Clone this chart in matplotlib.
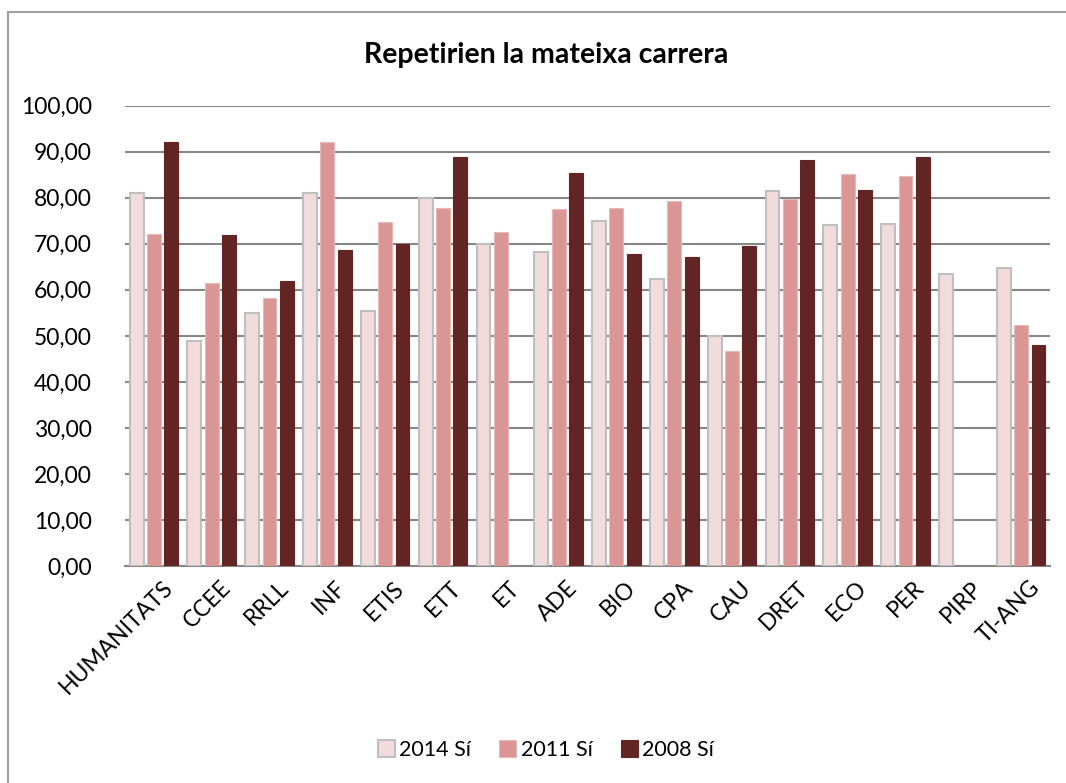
import matplotlib
matplotlib.use("Agg")
import matplotlib.pyplot as plt
import numpy as np
from matplotlib.lines import Line2D
from matplotlib.ticker import FuncFormatter
from matplotlib.transforms import ScaledTranslation

categories = ["HUMANITATS", "CCEE", "RRLL", "INF", "ETIS", "ETT", "ET", "ADE",
              "BIO", "CPA", "CAU", "DRET", "ECO", "PER", "PIRP", "TI-ANG"]
s2014 = [81.0, 48.9, 54.9, 81.0, 55.5, 80.0, 70.0, 68.2, 74.9, 62.3, 50.0, 81.4, 74.0, 74.4, 63.4, 64.7]
s2011 = [72.1, 61.5, 58.3, 92.2, 74.8, 77.7, 72.6, 77.5, 77.7, 79.2, 46.8, 79.7, 85.2, 84.7, np.nan, 52.4]
s2008 = [92.2, 72.0, 61.9, 68.6, 69.9, 88.8, np.nan, 85.3, 67.7, 67.2, 69.6, 88.3, 81.6, 88.8, np.nan, 48.1]
series_names = ["2014 Sí", "2011 Sí", "2008 Sí"]
yticks = [0, 10, 20, 30, 40, 50, 60, 70, 80, 90, 100]

plt.rcParams['font.family'] = ['Lato', 'DejaVu Sans']

fig = plt.figure(figsize=(10.66, 7.83), dpi=100)
ax = fig.add_axes([125/1066, (783-566)/783, (1050-125)/1066, (566-105.7)/783])

x = np.arange(len(categories))
w = 0.24
off = 0.30
ax.bar(x - off, s2014, w, color="#F2DCDB", edgecolor="#BFBFBF", linewidth=1.5, label=series_names[0], zorder=3)
ax.bar(x, s2011, w, color="#D99694", edgecolor="#E6B9B8", linewidth=0.8, label=series_names[1], zorder=3)
ax.bar(x + off, s2008, w, color="#632523", edgecolor="#632523", linewidth=0.8, label=series_names[2], zorder=3)

ax.set_xlim(-0.5, len(categories) - 0.5)
ax.set_ylim(0, 100)
ax.set_yticks(yticks)
ax.yaxis.set_major_formatter(FuncFormatter(lambda v, p: f"{v:.2f}".replace(".", ",")))
ax.grid(axis="y", color="#868686", linewidth=1.5, zorder=0)
ax.tick_params(axis="y", length=0, labelsize=16.5, pad=24)
ax.tick_params(axis="x", length=0, labelsize=16.5, pad=8)
for s in ["top", "right", "left"]:
    ax.spines[s].set_visible(False)
ax.spines["bottom"].set_color("#868686")
ax.spines["bottom"].set_linewidth(1.5)

ax.set_xticks(x)
ax.set_xticklabels(categories, rotation=45, ha="right", rotation_mode="anchor")
shift = ScaledTranslation(8/100, 0, fig.dpi_scale_trans)
for lbl in ax.get_xticklabels():
    lbl.set_transform(lbl.get_transform() + shift)

fig.text(0.512, 1 - 55/783, "Repetirien la mateixa carrera",
         ha="center", va="center", fontsize=20.5, fontweight="bold")

fig.legend(loc="center", bbox_to_anchor=(0.512, (783 - 750) / 783), ncol=3,
           frameon=False, fontsize=15.5, handlelength=0.8, handleheight=0.8,
           handletextpad=0.2, columnspacing=1.3)

# chart border (left and top visible)
fig.add_artist(Line2D([8/1066, 8/1066], [0, 1 - 12/783], color="#9E9E9E", linewidth=1.5, transform=fig.transFigure))
fig.add_artist(Line2D([8/1066, 1], [1 - 12/783, 1 - 12/783], color="#9E9E9E", linewidth=1.5, transform=fig.transFigure))

fig.savefig("out.png", dpi=100)
